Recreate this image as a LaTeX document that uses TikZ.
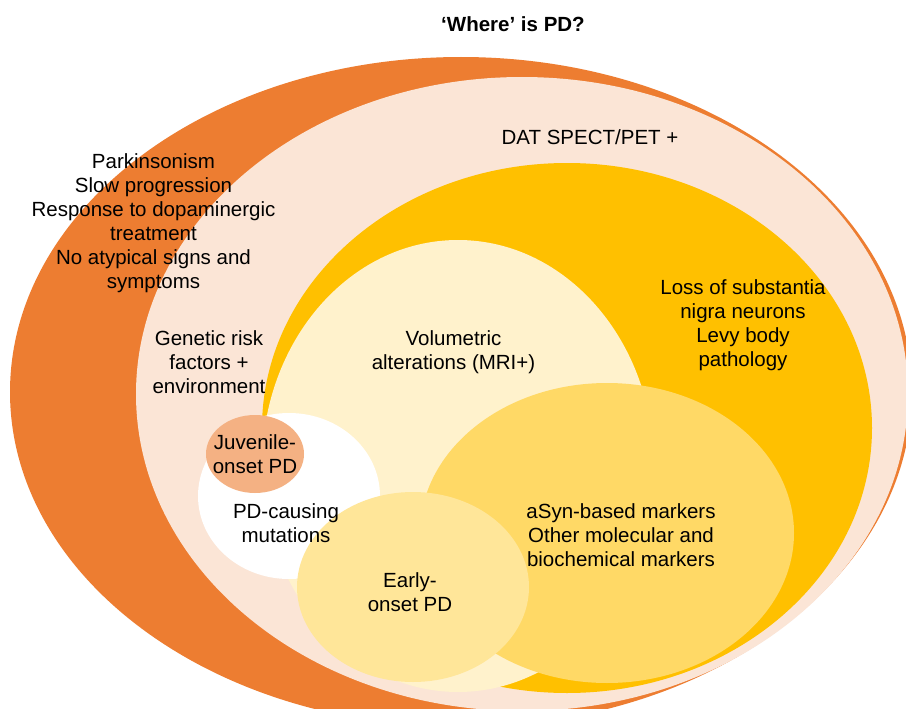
\documentclass[tikz,border=0pt]{standalone}
\usepackage{fontspec}
\setmainfont{Liberation Sans}
\usetikzlibrary{shapes.geometric}
\definecolor{cOrange}{HTML}{ED7D31}
\definecolor{cPink}{HTML}{FBE5D6}
\definecolor{cGold}{HTML}{FFC000}
\definecolor{cLight}{HTML}{FFF2CC}
\definecolor{cSyn}{HTML}{FFD966}
\definecolor{cEarly}{HTML}{FFE699}
\definecolor{cJuv}{HTML}{F4B183}
\tikzset{
  blob/.style={ellipse, inner sep=0pt, outer sep=0pt, draw=none},
  lbl/.style={align=center, inner sep=0pt, text=black, font=\fontsize{20.5}{24}\selectfont},
}
\begin{document}
\begin{tikzpicture}[x=1pt,y=-1pt]
\useasboundingbox (0,0) rectangle (906,709);
\clip (0,0) rectangle (906,709);
\fill[white] (0,0) rectangle (906,709);
\node[blob, fill=cOrange, minimum width=902pt, minimum height=670pt] (orange) at (461,392) {};
\node[blob, fill=cPink, minimum width=772pt, minimum height=634pt] (pink) at (522,394) {};
\node[blob, fill=cGold, minimum width=610pt, minimum height=530pt] (gold) at (567,428) {};
\node[blob, fill=cLight, minimum width=392pt, minimum height=452pt] (light) at (458,466) {};
\node[blob, fill=cSyn, minimum width=374pt, minimum height=300pt] (syn) at (607,533) {};
\node[blob, fill=white, minimum width=182pt, minimum height=166pt] (white) at (289,496) {};
\node[blob, fill=cEarly, minimum width=232pt, minimum height=190pt] (early) at (413,587) {};
\node[blob, fill=cJuv, minimum width=98pt, minimum height=78pt] (juv) at (255,454) {};

\node[lbl, font=\fontsize{20.5}{24}\selectfont\bfseries] (title) at (513,24) {‘Where’ is PD?};
\node[lbl, anchor=north] (clin) at (153.5,153) {Parkinsonism\\Slow progression\\Response to dopaminergic\\treatment\\No atypical signs and\\symptoms};
\node[lbl] (dat) at (590,137) {DAT SPECT/PET +};
\node[lbl, anchor=north] (gen) at (209,330) {Genetic risk\\factors +\\environment};
\node[lbl, anchor=north] (loss) at (743,279) {Loss of substantia\\nigra neurons\\Levy body\\pathology};
\node[lbl, anchor=north] (vol) at (453.5,330) {Volumetric\\alterations (MRI+)};
\node[lbl, anchor=north] (juvt) at (255,434) {Juvenile-\\onset PD};
\node[lbl, anchor=north] (mut) at (286,503) {PD-causing\\mutations};
\node[lbl, anchor=north] (eart) at (410,572) {Early-\\onset PD};
\node[lbl, anchor=north] (synt) at (621,503) {aSyn-based markers\\Other molecular and\\biochemical markers};
\end{tikzpicture}
\end{document}
